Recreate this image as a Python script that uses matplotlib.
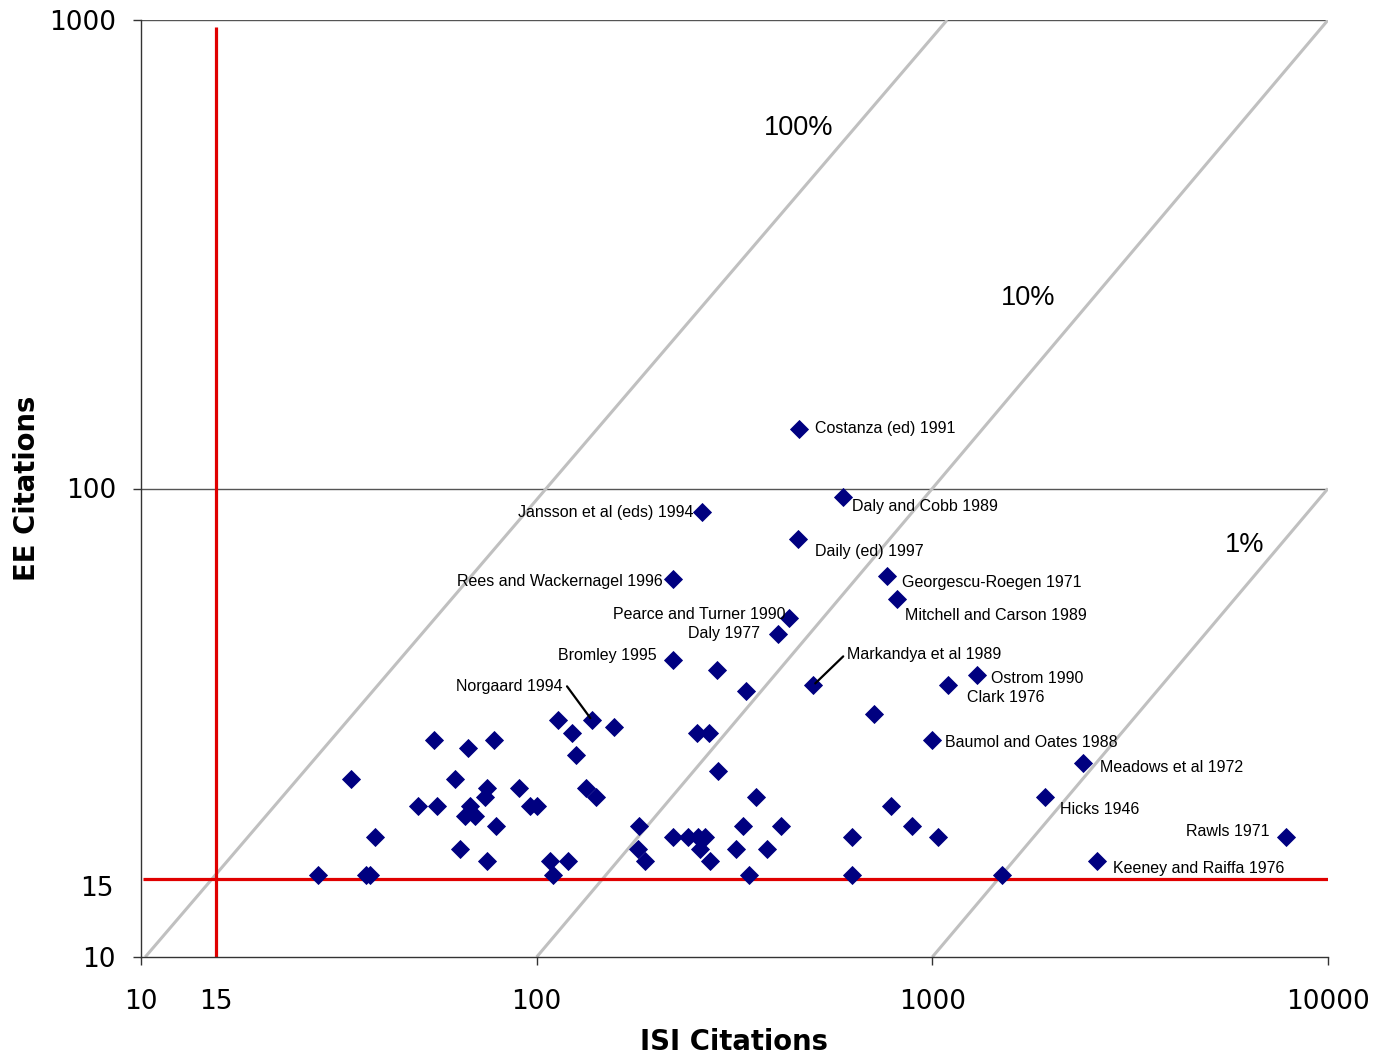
import matplotlib
matplotlib.use("Agg")
import matplotlib.pyplot as plt

# ---------------- data ----------------
# labelled publications
lab_names = ["Costanza (ed) 1991", "Daly and Cobb 1989", "Jansson et al (eds) 1994",
             "Daily (ed) 1997", "Rees and Wackernagel 1996", "Georgescu-Roegen 1971",
             "Mitchell and Carson 1989", "Pearce and Turner 1990", "Daly 1977",
             "Markandya et al 1989", "Bromley 1995", "Norgaard 1994", "Ostrom 1990",
             "Clark 1976", "Baumol and Oates 1988", "Meadows et al 1972", "Hicks 1946",
             "Rawls 1971", "Keeney and Raiffa 1976"]
lab_isi = [460, 596, 262, 457, 221, 769, 812, 435, 408, 500, 221, 138, 1294,
           1097, 996, 2410, 1930, 7830, 2610]
lab_ee = [134, 96, 89, 78, 64, 65, 58, 53, 49, 38, 43, 32, 40, 38, 29, 26, 22, 18, 16]

# unlabelled publications
isi = [28, 37, 38, 110, 345, 625, 1500,
       75, 108, 120, 188, 275,
       64, 180, 259, 319, 383,
       39, 221, 241, 256, 266, 628, 1035,
       79, 181, 332, 414, 890,
       66, 70,
       50, 56, 68, 96, 100, 785,
       74, 141, 358,
       75, 90, 133,
       34, 62,
       287, 126, 67,
       55, 78,
       123, 254, 272,
       157, 113, 712, 339, 285]
ee = [15, 15, 15, 15, 15, 15, 15,
      16, 16, 16, 16, 16,
      17, 17, 17, 17, 17,
      18, 18, 18, 18, 18, 18, 18,
      19, 19, 19, 19, 19,
      20, 20,
      21, 21, 21, 21, 21, 21,
      22, 22, 22,
      23, 23, 23,
      24, 24,
      25, 27, 28,
      29, 29,
      30, 30, 30,
      31, 32, 33, 37, 41]

# reference ratio lines (EE / ISI) as drawn
ratio_names = ["100%", "10%", "1%"]
ratio_x = [[10.25, 1090], [100, 10000], [1000, 10000]]
ratio_y = [[10, 1000], [10, 1000], [10, 100]]

# threshold lines (15 citations)
thr_x = 15.5
thr_y = 14.7

x_ticks = [10, 100, 1000, 10000]
x_tick_labels = ["10", "100", "1000", "10000"]
y_ticks = [10, 100, 1000]
y_tick_labels = ["10", "100", "1000"]

# label placement: (ha, dx px, dy px)
lab_pos = [("left", 16, 2), ("left", 9, -8), ("right", -9, 2), ("left", 17, -10),
           ("right", -10, 0), ("left", 15, -4), ("left", 8, -14), ("right", -4, 5),
           ("right", -18, 2), ("left", 34, 33), ("right", -16, 7), ("right", -29, 36),
           ("left", 14, -2), ("left", 19, -10), ("left", 13, 0), ("left", 17, -3),
           ("left", 15, -11), ("right", -16, 8), ("left", 16, -5)]
leader = {"Markandya et al 1989": (30, 29), "Norgaard 1994": (-25, 34)}

# ---------------- figure ----------------
W, H = 1377, 1058
fig = plt.figure(figsize=(W / 100, H / 100), dpi=100)
ax = fig.add_axes([141 / W, 1 - 957 / H, (1328 - 141) / W, (957 - 20) / H])
ax.set_xscale("log")
ax.set_yscale("log")
ax.set_xlim(10, 10000)
ax.set_ylim(10, 1000)

for sp in ["top", "right"]:
    ax.spines[sp].set_visible(False)
for sp in ["left", "bottom"]:
    ax.spines[sp].set_color("#333333")
    ax.spines[sp].set_linewidth(1.0)

# horizontal gridlines at 100 and 1000
for g in [100, 1000]:
    ax.axhline(g, color="#555555", lw=1.0, zorder=1)

# ratio lines
for xs, ys in zip(ratio_x, ratio_y):
    ax.plot(xs, ys, color="#C0C0C0", lw=2.2, zorder=1.5, solid_capstyle="butt")

# thresholds
ax.plot([thr_x, thr_x], [10, 966], color="#E00000", lw=2.3, zorder=2, solid_capstyle="butt")
ax.plot([10.1, 10000], [thr_y, thr_y], color="#E00000", lw=2.3, zorder=2, solid_capstyle="butt")

# points
ax.plot(isi, ee, linestyle="none", marker="D", ms=9.0, color="#000080",
        mec="#000080", mew=0.6, zorder=3)
ax.plot(lab_isi, lab_ee, linestyle="none", marker="D", ms=9.0, color="#000080",
        mec="#000080", mew=0.6, zorder=3)

lab_font = dict(family="Liberation Sans", size=11.5, color="black")
for name, xv, yv, (ha, dx, dy) in zip(lab_names, lab_isi, lab_ee, lab_pos):
    ax.annotate(name, xy=(xv, yv), xytext=(dx, dy - 2), textcoords="offset pixels",
                ha=ha, va="center", zorder=4, **lab_font)
    if name in leader:
        lx, ly = leader[name]
        ax.annotate("", xy=(xv, yv), xytext=(lx, ly), textcoords="offset pixels",
                    arrowprops=dict(arrowstyle="-", color="black", lw=1.6,
                                    shrinkA=0, shrinkB=2), zorder=4)

# ratio labels
pct_pos = [(0.554, 0.885), (0.747, 0.7035), (0.930, 0.440)]
for name, (px, py) in zip(ratio_names, pct_pos):
    ax.text(px, py, name, transform=ax.transAxes, ha="center", va="center",
            family="Liberation Sans", size=19.5, color="black")

# ticks
ax.set_xticks(x_ticks, x_tick_labels)
ax.set_yticks(y_ticks, y_tick_labels)
ax.set_xticks([thr_x], ["15"], minor=True)
ax.set_yticks([14.2], ["15"], minor=True)
ax.tick_params(which="major", direction="out", length=6, width=1, color="#333333")
ax.tick_params(which="minor", length=0)
ax.tick_params(axis="x", which="major", pad=17)
ax.tick_params(axis="x", which="minor", pad=23)
ax.tick_params(axis="y", which="major", pad=12)
ax.tick_params(axis="y", which="minor", pad=20)
for lbl in ax.get_xticklabels(which="both") + ax.get_yticklabels(which="both"):
    lbl.set_family("DejaVu Sans")
    lbl.set_fontsize(19)

fig.text(734 / W, 1 - 1042 / H, "ISI Citations", ha="center", va="center",
         family="DejaVu Sans", weight="bold", size=19.8)
fig.text(27 / W, 1 - 488 / H, "EE Citations", ha="center", va="center",
         rotation=90, family="DejaVu Sans", weight="bold", size=19.8)

fig.savefig("out.png", dpi=100)
